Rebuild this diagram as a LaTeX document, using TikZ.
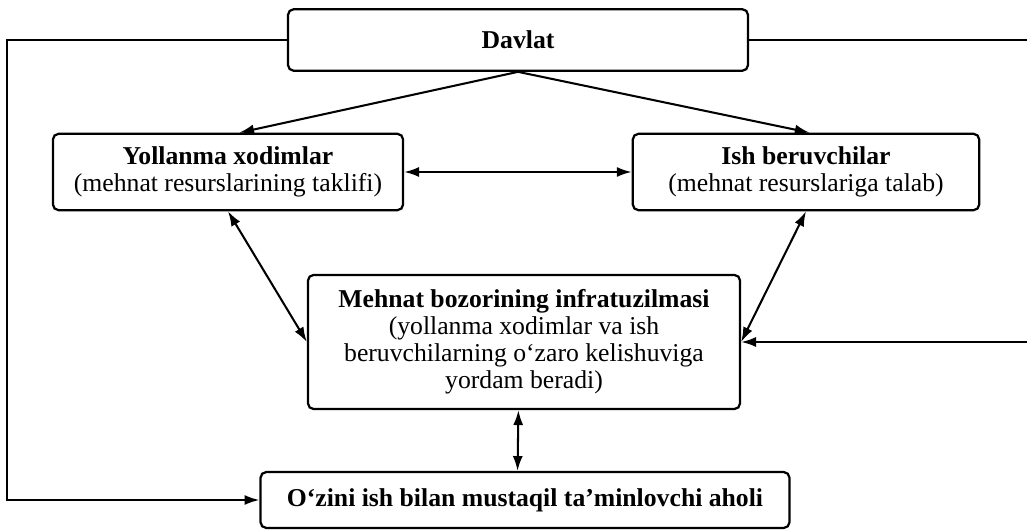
\documentclass[tikz,border=0pt]{standalone}
\usepackage{fontspec}
\setmainfont{Liberation Serif}
\usetikzlibrary{arrows.meta}

\begin{document}
\begin{tikzpicture}[x=0.537pt,y=-0.537pt,>={Latex[length=8pt,width=5.4pt]},
  font=\fontsize{13.8}{14.5}\selectfont,
  box/.style={draw, rounded corners=3pt, line width=1.2pt, align=center, inner sep=2pt},
  link/.style={line width=1.1pt}]
  \useasboundingbox (0,0) rectangle (1027,531);

  % boxes
  \node[box, minimum width=247pt, minimum height=33pt] (davlat) at (518,40) {\textbf{Davlat}};
  \node[box, minimum width=188pt, minimum height=41pt] (yollanma) at (228,172)
    {\textbf{Yollanma xodimlar}\\(mehnat resurslarining taklifi)};
  \node[box, minimum width=186pt, minimum height=41pt] (ish) at (806,172)
    {\textbf{Ish beruvchilar}\\(mehnat resurslariga talab)};
  \node[box, minimum width=232pt, minimum height=72pt] (infra) at (524,342)
    {\textbf{Mehnat bozorining infratuzilmasi}\\(yollanma xodimlar va ish\\beruvchilarning o‘zaro kelishuviga\\yordam beradi)};
  \node[box, minimum width=284pt, minimum height=30pt] (aholi) at (525,500)
    {\textbf{O‘zini ish bilan mustaqil ta’minlovchi aholi}};

  \coordinate (rtop) at (davlat.east -| 1027,0);
  \coordinate (rmid) at (infra.east -| 1027,0);

  % links
  \draw[link,->] (davlat.south) -- ([xshift=6pt]yollanma.north);
  \draw[link,->] (davlat.south) -- ([xshift=2pt]ish.north);
  \draw[link,<->] (yollanma) -- (ish);
  \draw[link,<->] (yollanma.south) -- (infra.west);
  \draw[link,<->] (ish.south) -- (infra.east);
  \draw[link,<->] ([xshift=-3pt]infra.south) -- ([xshift=-4pt]aholi.north);
  \draw[link,->] (davlat.west) -- ++(-280,0) |- (aholi.west);
  \draw[link] (davlat.east) -- (rtop);
  \draw[link,->] (rmid) -- (infra.east);
\end{tikzpicture}
\end{document}
